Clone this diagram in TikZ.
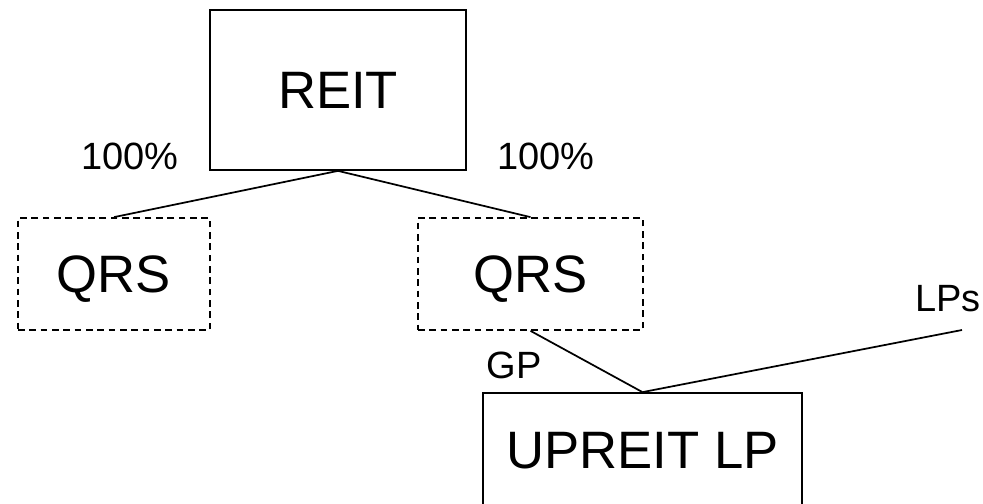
\documentclass[tikz,border=0pt]{standalone}
\usepackage{fontspec}
\setmainfont{Liberation Sans}
\begin{document}
\begin{tikzpicture}[x=0.75pt,y=-0.75pt,
  entity/.style={draw,line width=1.3pt,rectangle,inner sep=0pt,text depth=0pt,font=\fontsize{39.5}{44}\selectfont},
  dbox/.style={entity,dash pattern=on 5pt off 3.5pt},
  lbl/.style={inner sep=0pt,text depth=0pt,font=\fontsize{28.5}{32}\selectfont},
  link/.style={line width=1.3pt}]
\useasboundingbox (0,0) rectangle (983,504);
\node[entity,minimum width=192pt,minimum height=120pt] (reit) at (338,90) {REIT};
\node[dbox,minimum width=144pt,minimum height=84pt] (qrs1) at (114,274) {QRS};
\node[dbox,minimum width=168.75pt,minimum height=84pt] (qrs2) at (530.5,274) {QRS};
\node[entity,minimum width=239.25pt,minimum height=85.5pt] (lp) at (642.5,450) {UPREIT LP};
\coordinate (lps) at (962,330);
\node[lbl] (p1) at (130,156) {100\%};
\node[lbl] (p2) at (546,156) {100\%};
\node[lbl] (gp) at (514,365) {GP};
\node[lbl] (lpslbl) at (948,298) {LPs};
\draw[link] (reit.south) -- (qrs1.north);
\draw[link] (reit.south) -- (qrs2.north);
\draw[link] (qrs2.south) -- (lp.north);
\draw[link] (lp.north) -- (lps);
\end{tikzpicture}
\end{document}
